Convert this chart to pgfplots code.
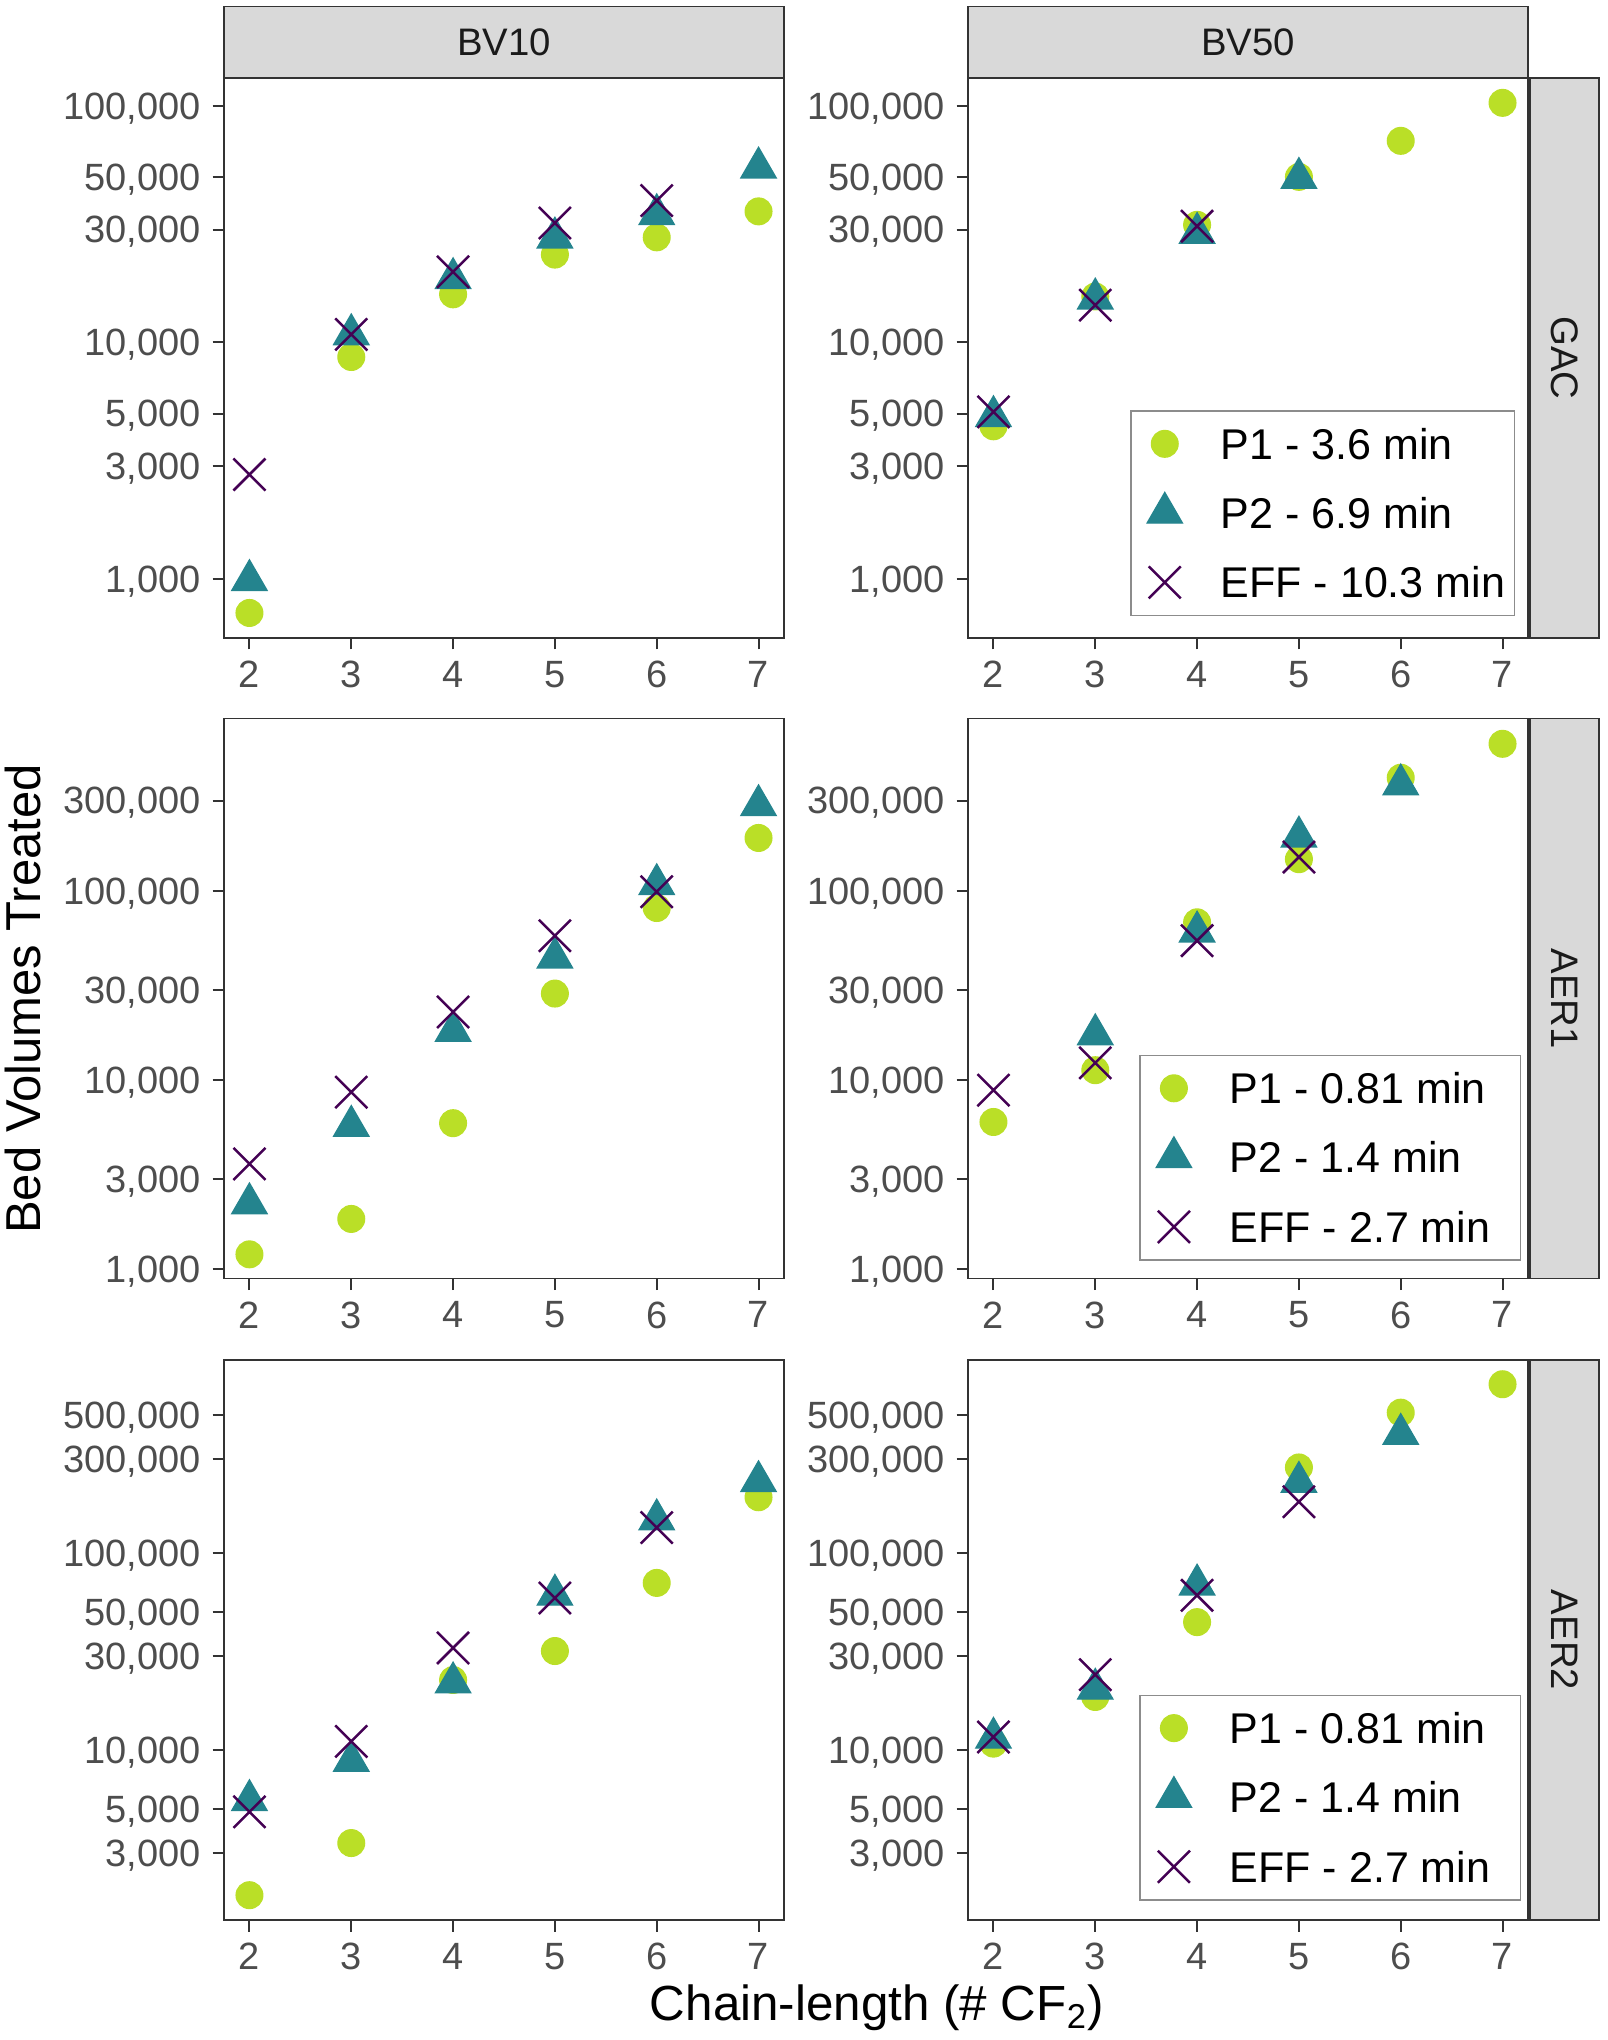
\documentclass[border=0pt]{standalone}
\usepackage{fontspec}
\setmainfont{Liberation Sans}
\usepackage{pgfplots}
\pgfplotsset{compat=1.18}
\definecolor{cP1}{HTML}{BADF27}
\definecolor{cP2}{HTML}{24848E}
\definecolor{cEFF}{HTML}{440154}
\definecolor{grey20}{HTML}{333333}
\definecolor{grey30}{HTML}{4D4D4D}
\definecolor{grey10}{HTML}{1A1A1A}
\definecolor{grey85}{HTML}{D9D9D9}
\definecolor{leggrey}{HTML}{8C8C8C}

\pgfplotsset{
  mkleg/.style={legend image code/.code={\path (-7bp,-7bp) (7bp,7bp); \draw[##1] plot coordinates {(0pt,0pt)};}},
  sP/.style={only marks, mark=*, mark size=4.0bp, color=cP1, line width=0.4bp, mkleg},
  sQ/.style={only marks, mark=triangle*, mark size=6.1bp, color=cP2, line width=0.4bp, mkleg},
  sE/.style={only marks, mark=x, mark size=6.8bp, color=cEFF, line width=0.75bp, mkleg},
  mypanel/.style={
    scale only axis, width=168bp, height=168bp,
    xmin=1.75, xmax=7.25,
    xtick={2,3,4,5,6,7}, xticklabels={2,3,4,5,6,7},
    axis line style={grey20, line width=0.45bp},
    tick style={grey20, line width=0.6bp},
    major tick length=3.45bp, tick align=outside, tick pos=left,
    tick label style={font=\fontsize{11.4bp}{13bp}\selectfont, text=grey30},
    yticklabel style={text depth=0pt},
    legend cell align=left,
    legend style={draw=leggrey, line width=0.45bp, fill=white,
      font=\fontsize{12.9bp}{14bp}\selectfont,
      inner xsep=2.8bp, inner ysep=2.6bp, row sep=6.3bp, column sep=9.4bp,
      nodes={text height=9.3bp, text depth=0pt, inner sep=0pt},
      anchor=south east},
  },
  myrowA/.style={ymin=562, ymax=131200,
    ytick={1000,3000,5000,10000,30000,50000,100000},
    yticklabels={{1,000},{3,000},{5,000},{10,000},{30,000},{50,000},{100,000}}},
  myrowB/.style={ymin=891, ymax=816600,
    ytick={1000,3000,10000,30000,100000,300000},
    yticklabels={{1,000},{3,000},{10,000},{30,000},{100,000},{300,000}}},
  myrowC/.style={ymin=1368, ymax=955000,
    ytick={3000,5000,10000,30000,50000,100000,300000,500000},
    yticklabels={{3,000},{5,000},{10,000},{30,000},{50,000},{100,000},{300,000},{500,000}}},
}

\begin{document}
\begin{tikzpicture}
\path[use as bounding box] (0,0) rectangle (482.1bp,-612bp);

% ---------- Row 1: GAC ----------
\begin{axis}[ymode=log, mypanel, myrowA, name=a11, anchor=north west, at={(67.2bp,-23.4bp)}]
\addplot[sP] coordinates {(2,717) (3,8670) (4,15960) (5,23500) (6,27800) (7,35800)};
\addplot[sQ] coordinates {(2,986) (3,10800) (4,18650) (5,27700) (6,34760) (7,54780)};
\addplot[sE] coordinates {(2,2760) (3,10800) (4,19860) (5,31960) (6,39780)};
\end{axis}

\begin{axis}[ymode=log, mypanel, myrowA, name=a12, anchor=north west, at={(290.4bp,-23.4bp)},
  legend style={at={(0.977,0.0385)}}]
\addplot[sP] coordinates {(2,4415) (3,15630) (4,31400) (5,50100) (6,71150) (7,103000)};
\addlegendentry{P1 - 3.6 min}
\addplot[sQ] coordinates {(2,4865) (3,15300) (4,29000) (5,49500)};
\addlegendentry{P2 - 6.9 min}
\addplot[sE] coordinates {(2,5080) (3,14360) (4,31000)};
\addlegendentry{EFF - 10.3 min}
\end{axis}

% ---------- Row 2: AER1 ----------
\begin{axis}[ymode=log, mypanel, myrowB, name=a21, anchor=north west, at={(67.2bp,-215.55bp)}]
\addplot[sP] coordinates {(2,1196) (3,1841) (4,5909) (5,28650) (6,81220) (7,190600)};
\addplot[sQ] coordinates {(2,2223) (3,5708) (4,18140) (5,44330) (6,108300) (7,283500)};
\addplot[sE] coordinates {(2,3597) (3,8618) (4,22900) (5,57940) (6,99000)};
\end{axis}

\begin{axis}[ymode=log, mypanel, myrowB, name=a22, anchor=north west, at={(290.4bp,-215.55bp)},
  legend style={at={(0.9875,0.0315)}}]
\addplot[sP] coordinates {(2,5995) (3,11265) (4,68240) (5,147200) (6,397000) (7,600000)};
\addlegendentry{P1 - 0.81 min}
\addplot[sQ] coordinates {(3,17420) (4,60880) (5,193400) (6,365200)};
\addlegendentry{P2 - 1.4 min}
\addplot[sE] coordinates {(2,8834) (3,12315) (4,54580) (5,151000)};
\addlegendentry{EFF - 2.7 min\hspace*{6.2bp}}
\end{axis}

% ---------- Row 3: AER2 ----------
\begin{axis}[ymode=log, mypanel, myrowC, name=a31, anchor=north west, at={(67.2bp,-408bp)}]
\addplot[sP] coordinates {(2,1829) (3,3365) (4,22650) (5,31780) (6,70480) (7,191900)};
\addplot[sQ] coordinates {(2,5549) (3,8779) (4,21960) (5,61250) (6,147800) (7,231100)};
\addplot[sE] coordinates {(2,4848) (3,11040) (4,32960) (5,59080) (6,134600)};
\end{axis}

\begin{axis}[ymode=log, mypanel, myrowC, name=a32, anchor=north west, at={(290.4bp,-408bp)},
  legend style={at={(0.9875,0.0345)}}]
\addplot[sP] coordinates {(2,10760) (3,18570) (4,44560) (5,271900) (6,516000) (7,719500)};
\addlegendentry{P1 - 0.81 min}
\addplot[sQ] coordinates {(2,11510) (3,20410) (4,69000) (5,229300) (6,401700)};
\addlegendentry{P2 - 1.4 min}
\addplot[sE] coordinates {(2,11630) (3,24100) (4,60950) (5,182000)};
\addlegendentry{EFF - 2.7 min\hspace*{6.2bp}}
\end{axis}

% ---------- strips ----------
\tikzset{strip/.style={draw=grey20, line width=0.45bp, fill=grey85},
  striptext/.style={font=\fontsize{11.5bp}{13bp}\selectfont, text=grey10}}
\draw[strip] (a11.north west) rectangle ([yshift=21.45bp]a11.north east);
\node[striptext] at ([yshift=10.7bp]a11.north) {BV10};
\draw[strip] (a12.north west) rectangle ([yshift=21.45bp]a12.north east);
\node[striptext] at ([yshift=10.7bp]a12.north) {BV50};

\draw[strip] ([xshift=0.6bp]a12.north east) rectangle ([xshift=21.3bp]a12.south east);
\node[striptext, rotate=-90] at ([xshift=10.95bp]a12.east) {GAC};
\draw[strip] ([xshift=0.6bp]a22.north east) rectangle ([xshift=21.3bp]a22.south east);
\node[striptext, rotate=-90] at ([xshift=10.95bp]a22.east) {AER1};
\draw[strip] ([xshift=0.6bp]a32.north east) rectangle ([xshift=21.3bp]a32.south east);
\node[striptext, rotate=-90] at ([xshift=10.95bp]a32.east) {AER2};

% ---------- axis titles ----------
\node[rotate=90, font=\fontsize{14.7bp}{16bp}\selectfont] at (7.0bp,-299.7bp) {Bed Volumes Treated};
\node[font=\fontsize{14.8bp}{16bp}\selectfont] at (263.1bp,-602.4bp) {Chain-length (\# CF\textsubscript{2})};
\end{tikzpicture}
\end{document}
